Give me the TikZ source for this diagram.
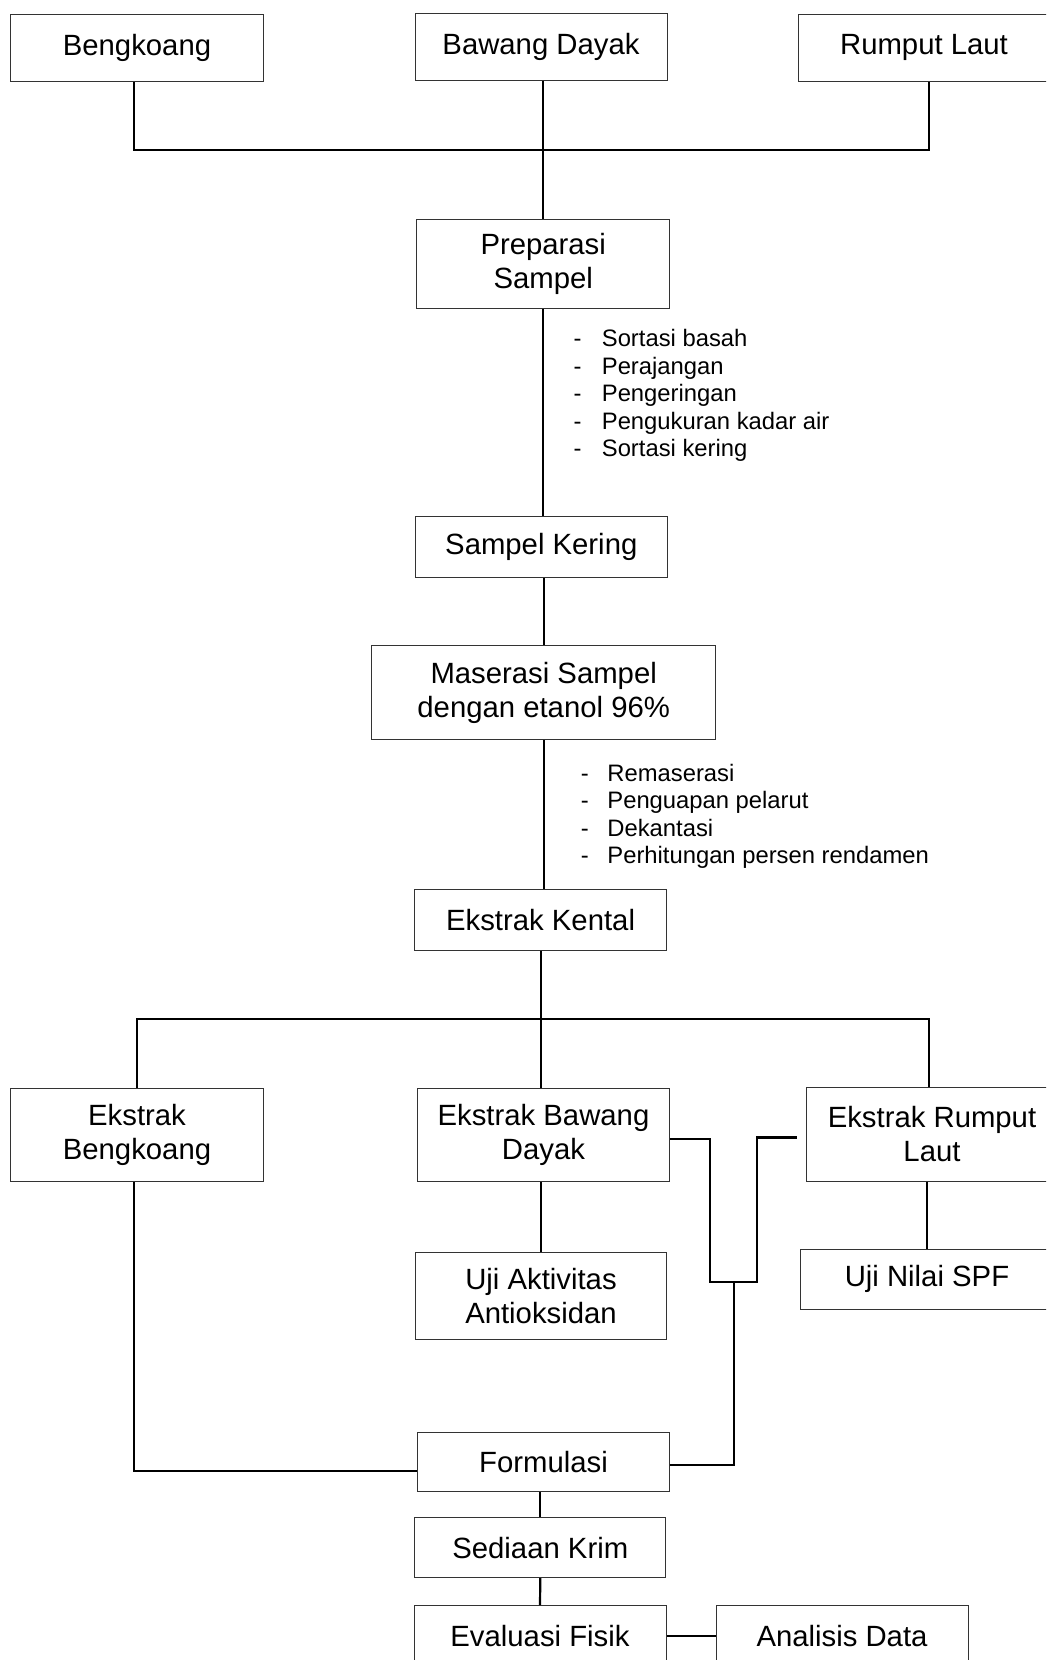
\documentclass[tikz,border=0pt]{standalone}
\usepackage{fontspec}
\setmainfont{Liberation Sans}
\newcommand\boxfont{\fontsize{14.65}{17}\selectfont}
\newcommand\bulfont{\fontsize{11.9}{13.75}\selectfont}
\begin{document}
\begin{tikzpicture}[x=0.5pt,y=-0.5pt,
  box/.style={draw=black!80, line width=0.5pt, inner sep=0pt, align=center, font=\boxfont},
  conn/.style={line width=1.1pt},
  bul/.style={inner sep=0pt, font=\bulfont}]
\useasboundingbox (0,0) rectangle (1046,1660);
\clip (0,0) rectangle (1046,1660);
% boxes
\node[box, minimum width=126.3pt, minimum height=33.5pt] (bengkoang) at (137,48.2) {Bengkoang};
\node[box, minimum width=126pt, minimum height=33.5pt] (bawang) at (541,46.8) {Bawang Dayak};
\node[box, minimum width=126pt, minimum height=33.5pt] (rumput) at (924,47.5) {Rumput Laut};
\node[box, minimum width=126.5pt, minimum height=44.65pt] (preparasi) at (543.2,263.7) {Preparasi\\Sampel};
\node[box, minimum width=126.3pt, minimum height=30.3pt] (sampelkering) at (541.3,547) {Sampel Kering};
\node[box, minimum width=171.85pt, minimum height=47pt] (maserasi) at (543.7,692.7) {Maserasi Sampel\\dengan etanol 96\%};
\node[box, minimum width=126.3pt, minimum height=30.35pt] (ekstrakkental) at (540.6,919.7) {Ekstrak Kental};
\node[box, minimum width=126.3pt, minimum height=46.8pt] (ekbengkoang) at (137,1134.9) {Ekstrak\\Bengkoang};
\node[box, minimum width=126.2pt, minimum height=46.8pt] (ekbawang) at (543.5,1134.9) {Ekstrak Bawang\\Dayak};
\node[box, minimum width=126pt, minimum height=46.6pt] (ekrumput) at (932,1134.4) {Ekstrak Rumput\\Laut};
\node[box, minimum width=125.7pt, minimum height=43.5pt] (ujiaktivitas) at (541,1295.8) {Uji Aktivitas\\Antioksidan};
\node[box, minimum width=126.3pt, minimum height=30pt] (ujispf) at (927,1279.3) {Uji Nilai SPF};
\node[box, minimum width=126.3pt, minimum height=29.8pt] (formulasi) at (543.5,1462) {Formulasi};
\node[box, minimum width=125.65pt, minimum height=30.1pt] (sediaan) at (540.3,1547.6) {Sediaan Krim};
\node[box, minimum width=126pt, minimum height=30.3pt] (evaluasi) at (540,1636) {Evaluasi Fisik};
\node[box, minimum width=126pt, minimum height=30.3pt] (analisis) at (842,1636) {Analisis Data};
% step lists
\node[bul, anchor=base west] (list1) at (573.3,346.7) {\begin{tabular}[t]{@{}l@{}l@{}}
\makebox[14.1pt][l]{-}&Sortasi basah\\
\makebox[14.1pt][l]{-}&Perajangan\\
\makebox[14.1pt][l]{-}&Pengeringan\\
\makebox[14.1pt][l]{-}&Pengukuran kadar air\\
\makebox[14.1pt][l]{-}&Sortasi kering
\end{tabular}};
\node[bul, anchor=base west] (list2) at (580.5,781) {\begin{tabular}[t]{@{}l@{}l@{}}
\makebox[13.25pt][l]{-}&Remaserasi\\
\makebox[13.25pt][l]{-}&Penguapan pelarut\\
\makebox[13.25pt][l]{-}&Dekantasi\\
\makebox[13.25pt][l]{-}&Perhitungan persen rendamen
\end{tabular}};
% junction coordinates
\coordinate (jt) at (543,149.7);
\coordinate (jm) at (540.6,1018.7);
\coordinate (ta) at (710,1281.7);
\coordinate (tb) at (756.7,1281.7);
\coordinate (tc) at (734,1281.7);
% connectors
\draw[conn] ([xshift=-1.5pt]bengkoang.south) |- (jt) -| ([xshift=2.35pt]rumput.south);
\draw[conn] (bawang.south -| preparasi.north) -- (preparasi.north);
\draw[conn] (preparasi.south) -- (preparasi.south |- sampelkering.north);
\draw[conn] (sampelkering.south -| maserasi.north) -- (maserasi.north);
\draw[conn] (maserasi.south) -- (maserasi.south |- ekstrakkental.north);
\draw[conn] (ekstrakkental.south) -- (ekstrakkental.south |- ekbawang.north);
\draw[conn] ([xshift=0.15pt]ekbengkoang.north) |- (jm) -| ([xshift=-1.65pt]ekrumput.north);
\draw[conn] (ekbawang.south -| ujiaktivitas.north) -- (ujiaktivitas.north);
\draw[conn] (ekrumput.south -| ujispf.north) -- (ujispf.north);
\draw[conn] ([xshift=-1.5pt]ekbengkoang.south) |- ([yshift=-4.5pt]formulasi.west);
\draw[conn] ([yshift=-2pt]ekbawang.east) -| (ta) -- (tb) |- ([xshift=-4.5pt,yshift=-1.5pt]ekrumput.west);
\draw[conn] (tc) |- ([yshift=-1.5pt]formulasi.east);
\draw[conn] (formulasi.south -| sediaan.north) -- (sediaan.north);
\draw[conn] (sediaan.south) -- (evaluasi.north);
\draw[conn] (evaluasi.east) -- (analisis.west);
\end{tikzpicture}
\end{document}
